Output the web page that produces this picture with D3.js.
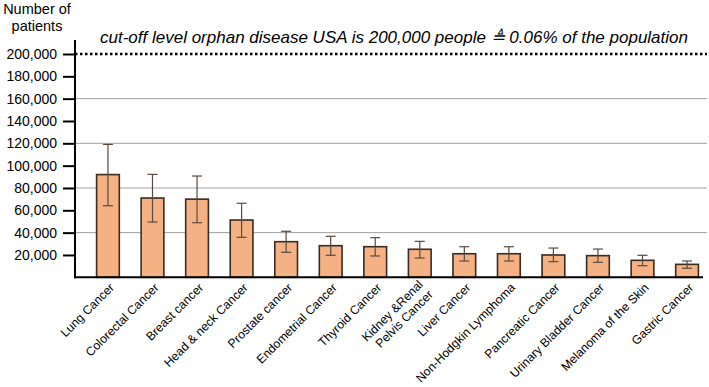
<!DOCTYPE html>
<html>
<head>
<meta charset="utf-8">
<script src="https://cdn.jsdelivr.net/npm/d3@7"></script>
<style>
  body { margin: 0; background: #fff; }
  svg { display: block; font-family: "Liberation Sans", Arial, sans-serif; }
</style>
</head>
<body>
<div id="chart"></div>
<script>
// data
var cancers = ["Lung Cancer", "Colorectal Cancer", "Breast cancer", "Head & neck Cancer",
  "Prostate cancer", "Endometrial Cancer", "Thyroid Cancer", "Kidney &Renal\nPelvis Cancer",
  "Liver Cancer", "Non-Hodgkin Lymphoma", "Pancreatic Cancer", "Urinary Bladder Cancer",
  "Melanoma of the Skin", "Gastric Cancer"];
var patients = [92000, 71000, 70000, 51300, 31900, 28300, 27400, 25100, 21100, 21100, 20000, 19400, 15200, 11600];
var errHigh = [119000, 92200, 90700, 66300, 41200, 36700, 35500, 32200, 27400, 27400, 26200, 25300, 19700, 14600];
var errLow = [64100, 49500, 48900, 35800, 22400, 19700, 19100, 17300, 14600, 14600, 14000, 13400, 10400, 8100];
var yTicks = [20000, 40000, 60000, 80000, 100000, 120000, 140000, 160000, 180000, 200000];
var gridValues = [40000, 80000, 120000, 160000];
var cutoff = 200000;
var cutoffLabel = "cut-off level orphan disease USA is 200,000 people \u225C 0.06% of the population";

var width = 709, height = 387;
var axisX = 75, baseY = 277.3, right = 707;

var svg = d3.select("#chart").append("svg")
  .attr("width", width)
  .attr("height", height);

var x = d3.scaleBand()
  .domain(cancers)
  .range([81, 714])
  .paddingInner(0.49)
  .paddingOuter(0.35);

var y = d3.scaleLinear()
  .domain([0, 200000])
  .range([baseY, 54]);

// grid lines
svg.selectAll(".grid")
  .data(gridValues)
  .enter().append("line")
  .attr("x1", axisX)
  .attr("x2", right)
  .attr("y1", d => y(d))
  .attr("y2", d => y(d))
  .attr("stroke", "#a0a0a0")
  .attr("stroke-width", 1);

// cut-off line
svg.append("line")
  .attr("x1", axisX)
  .attr("x2", right)
  .attr("y1", y(cutoff))
  .attr("y2", y(cutoff))
  .attr("stroke", "#000")
  .attr("stroke-width", 2.5)
  .attr("stroke-dasharray", "2.5,2.5");

svg.append("text")
  .attr("x", 100)
  .attr("y", 43)
  .attr("font-size", 17)
  .attr("font-style", "italic")
  .attr("fill", "#000")
  .text(cutoffLabel);

// bars
svg.selectAll(".bar")
  .data(patients)
  .enter().append("rect")
  .attr("x", (d, i) => x(cancers[i]))
  .attr("y", d => y(d))
  .attr("width", x.bandwidth())
  .attr("height", d => baseY - y(d))
  .attr("fill", "#f4b183")
  .attr("stroke", "#3b2b20")
  .attr("stroke-width", 1.6);

// error bars
var errG = svg.append("g")
  .attr("stroke", "#5a4a40")
  .attr("stroke-width", 1.2);
cancers.forEach((c, i) => {
  var cx = x(c) + x.bandwidth() / 2;
  errG.append("line").attr("x1", cx).attr("x2", cx).attr("y1", y(errHigh[i])).attr("y2", y(errLow[i]));
  errG.append("line").attr("x1", cx - 5).attr("x2", cx + 5).attr("y1", y(errHigh[i])).attr("y2", y(errHigh[i]));
  errG.append("line").attr("x1", cx - 5).attr("x2", cx + 5).attr("y1", y(errLow[i])).attr("y2", y(errLow[i]));
});

// y axis
var yAxis = svg.append("g")
  .attr("transform", `translate(${axisX},0)`)
  .call(d3.axisLeft(y).tickValues(yTicks).tickSize(12).tickPadding(6)
    .tickFormat(d3.format(",")));
yAxis.select(".domain").remove();
yAxis.selectAll(".tick line").attr("stroke", "#000").attr("stroke-width", 2);
yAxis.selectAll(".tick text")
  .attr("font-size", 14)
  .attr("font-family", "Liberation Sans, Arial, sans-serif")
  .attr("fill", "#000");

svg.append("line")
  .attr("x1", axisX).attr("x2", axisX)
  .attr("y1", 40).attr("y2", baseY + 1)
  .attr("stroke", "#000").attr("stroke-width", 2);
svg.append("line")
  .attr("x1", axisX - 1).attr("x2", 703)
  .attr("y1", baseY).attr("y2", baseY)
  .attr("stroke", "#000").attr("stroke-width", 2);

// y title
var yTitle = svg.append("text")
  .attr("text-anchor", "middle")
  .attr("font-size", 14.5)
  .attr("fill", "#000");
yTitle.append("tspan").attr("x", 37).attr("y", 14).text("Number of");
yTitle.append("tspan").attr("x", 37).attr("y", 31).text("patients");

// x labels
svg.selectAll(".xlab")
  .data(cancers)
  .enter().append("text")
  .attr("text-anchor", "end")
  .attr("font-size", 12.2)
  .attr("fill", "#000")
  .attr("transform", d => `translate(${x(d) + x.bandwidth() / 2 + 4},${baseY + 8}) rotate(-45)`)
  .each(function (d) {
    var lines = d.split("\n");
    var t = d3.select(this);
    lines.forEach((l, k) => {
      t.append("tspan")
        .attr("x", 0)
        .attr("dy", k === 0 ? (lines.length > 1 ? "0em" : "0.35em") : "1.15em")
        .text(l);
    });
  });
</script>
</body>
</html>
